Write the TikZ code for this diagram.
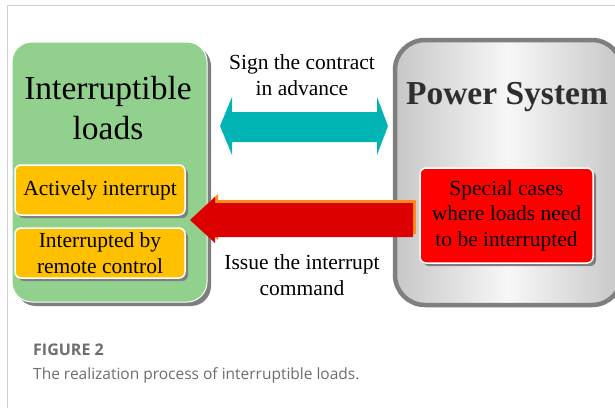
\documentclass[tikz,border=0pt]{standalone}
\usepackage{fontspec}
\setmainfont{Liberation Serif}
\newfontfamily\capfont{Open Sans}
\usetikzlibrary{shadows}
\definecolor{loadgreen}{HTML}{92D08E}
\definecolor{boxorange}{HTML}{FFC000}
\definecolor{shade}{HTML}{7F7F7F}
\definecolor{teal}{HTML}{00B4B4}
\definecolor{cmdred}{HTML}{DD0000}
\definecolor{cmdedge}{HTML}{FF8C1A}
\definecolor{psborder}{HTML}{7F7F7F}
\definecolor{captext}{HTML}{6D6E70}
\definecolor{framegray}{HTML}{D0D0D0}
\tikzset{
  panel/.style={draw=white, line width=1pt, rounded corners=20pt, inner sep=0pt,
    drop shadow={shadow xshift=4pt, shadow yshift=-4pt, fill=shade, opacity=1}},
  subbox/.style={draw=white, line width=1.5pt, rounded corners=6pt, inner sep=0pt,
    align=center, font=\fontsize{21.5}{25.5}\selectfont,
    drop shadow={shadow xshift=3pt, shadow yshift=-3pt, fill=shade, opacity=1}},
  label/.style={align=center, font=\fontsize{21.5}{26}\selectfont},
}
\begin{document}
\begin{tikzpicture}[x=1pt, y=-1pt]
\useasboundingbox (0,0) rectangle (615,408);
\clip (0,0) rectangle (615,408);
\fill[white] (0,0) rectangle (615,408);
% frame
\draw[framegray, line width=1pt] (615,5) -- (7,5) -- (7,408);

% interruptible loads panel
\node[panel, fill=loadgreen, minimum width=195pt, minimum height=260pt] (loads) at (109.5,172) {};
\node[align=center, font=\fontsize{33.5}{40}\selectfont] (loadstitle) at (108,108) {Interruptible\\loads};
\node[subbox, fill=boxorange, minimum width=170pt, minimum height=50pt] (active) at (100,190) {Actively interrupt};
\node[subbox, fill=boxorange, minimum width=170pt, minimum height=50pt] (remote) at (100,253) {Interrupted by\\remote control};

% power system panel
\node[draw=psborder, line width=4.5pt, rounded corners=30pt, inner sep=0pt,
  left color=black!22, right color=black!22, middle color=black!3,
  minimum width=227pt, minimum height=265pt] (power) at (508.5,172.5) {};
\node[font=\fontsize{33.5}{40}\selectfont\bfseries, text=black!82] (powertitle) at (507,97) {Power System};
\node[subbox, fill=red, minimum width=173pt, minimum height=95pt] (special) at (506.5,215.5)
  {Special cases\\where loads need\\to be interrupted};

% contract arrow
\fill[teal] (220,126) -- (232,97) -- (232,112) -- (377,112) -- (377,97) -- (388,126)
  -- (377,155) -- (377,142) -- (232,142) -- (232,155) -- cycle;
\node[label] (contract) at (302,75) {Sign the contract\\in advance};

% interrupt command arrow
\fill[cmdedge, shift={(3,-3)}] (190,220) -- (215,197) -- (215,203) -- (413,203)
  -- (413,237) -- (215,237) -- (215,243) -- cycle;
\fill[cmdred] (190,220) -- (215,197) -- (215,203) -- (413,203)
  -- (413,237) -- (215,237) -- (215,243) -- cycle;
\node[label] (command) at (302,275) {Issue the interrupt\\command};

% caption
\node[anchor=base west, inner sep=0pt, text=captext, font=\capfont\fontsize{16}{18}\selectfont\bfseries] (fig) at (33,355) {FIGURE 2};
\node[anchor=base west, inner sep=0pt, text=captext, font=\capfont\fontsize{15.5}{18}\selectfont] (cap) at (33,379) {The realization process of interruptible loads.};
\end{tikzpicture}
\end{document}
